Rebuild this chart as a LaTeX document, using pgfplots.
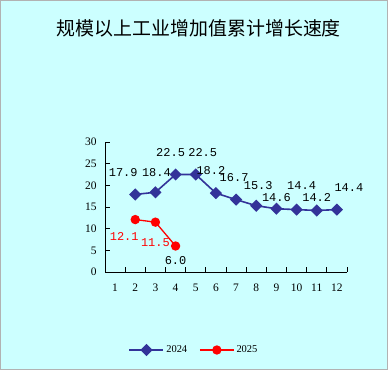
\documentclass[border=0pt]{standalone}
\usepackage{pgfplots}
\pgfplotsset{compat=1.18}
\usepackage{pgfplotstable}
\usepackage{fontspec}
\setmainfont{Liberation Serif}
\newfontfamily\cjk{Noto Sans CJK SC}
\newfontfamily\mono{Liberation Mono}
\definecolor{bgc}{HTML}{CCFFFF}
\definecolor{sblue}{HTML}{333399}
\definecolor{sred}{HTML}{FF0000}

\pgfplotstableread{
x y dx dy lab
2 17.9 -12 22 17.9
3 18.4 1 20 18.4
4 22.5 -5 22 22.5
5 22.5 7 22 22.5
6 18.2 -5 23 18.2
7 16.7 -2 22 16.7
8 15.3 2 20 15.3
9 14.6 0 11 14.6
10 14.4 5 24 14.4
11 14.2 0 13 14.2
12 14.4 12 22 14.4
}\tblA

\pgfplotstableread{
x y dx dy lab
2 12.1 -11 -17 12.1
3 11.5 0 -20 11.5
}\tblBlab

\pgfplotstableread{
x y
2 12.1
3 11.5
4 6.0
}\tblB

\pgfplotstableread{
x y dx dy lab
4 6.0 0 -15 6.0
}\tblBsix

\pgfplotsset{lbl/.style={draw=none, forget plot, point meta=explicit symbolic,
  nodes near coords,
  visualization depends on={\thisrow{dx}\as\dx},
  visualization depends on={\thisrow{dy}\as\dy},
  every node near coord/.append style={anchor=center, inner sep=0pt, xshift=\dx bp, yshift=\dy bp, #1, font=\mono\fontsize{12}{14}\selectfont}}}

\begin{document}
\begin{tikzpicture}
\fill[bgc] (-105bp,-98bp) rectangle (283bp,272bp);
\draw[gray!60, line width=0.6bp] (-104.7bp,-97.7bp) rectangle (282.7bp,271.7bp);
\begin{axis}[
 at={(0,0)}, anchor=south west,
 scale only axis, width=242bp, height=130bp,
 xmin=0.5, xmax=12.5, ymin=0, ymax=30,
 axis x line*=bottom, axis y line*=left,
 axis line style={-, line width=0.8pt, black},
 xtick={1,...,12}, major x tick style={draw=none},
 minor xtick={1.5,2.5,...,12.5},
 ytick={0,5,...,30},
 tick align=inside,
 tick style={black, line width=0.8pt},
 major tick length=5bp, minor tick length=5bp,
 /pgf/number format/assume math mode=true,
 ticklabel style={font=\fontsize{11.5}{13}\selectfont},
 xticklabel style={yshift=-8bp},
 yticklabel style={xshift=-5bp},
 clip=false,
 legend columns=2,
 legend style={at={(0.368,-0.6)}, anchor=center, draw=none, fill=none,
   font=\fontsize{10.5}{12}\selectfont, /tikz/every even column/.append style={column sep=10bp}},
 legend image code/.code={\draw[mark repeat=2,mark phase=2,#1] plot coordinates {(0cm,0cm) (0.6cm,0cm) (1.2cm,0cm)};},
]
\addplot[sblue, line width=1.6bp, mark=square*, mark size=3.5bp, mark options={rotate=45, fill=sblue}]
  table[x=x,y=y]{\tblA};
\addlegendentry{2024}
\addplot[sred, line width=1.3bp, mark=*, mark size=4bp, mark options={fill=sred}]
  table[x=x,y=y]{\tblB};
\addlegendentry{2025}
\addplot[lbl=black] table[x=x,y=y,meta=lab]{\tblA};
\addplot[lbl=sred] table[x=x,y=y,meta=lab]{\tblBlab};
\addplot[lbl=black] table[x=x,y=y,meta=lab]{\tblBsix};
\node[font=\cjk\fontsize{19}{21}\selectfont, anchor=center] at (axis description cs:0.388,1.877) {规模以上工业增加值累计增长速度};
\end{axis}
\pgfresetboundingbox
\useasboundingbox (-105bp,-98bp) rectangle (283bp,272bp);
\end{tikzpicture}
\end{document}
